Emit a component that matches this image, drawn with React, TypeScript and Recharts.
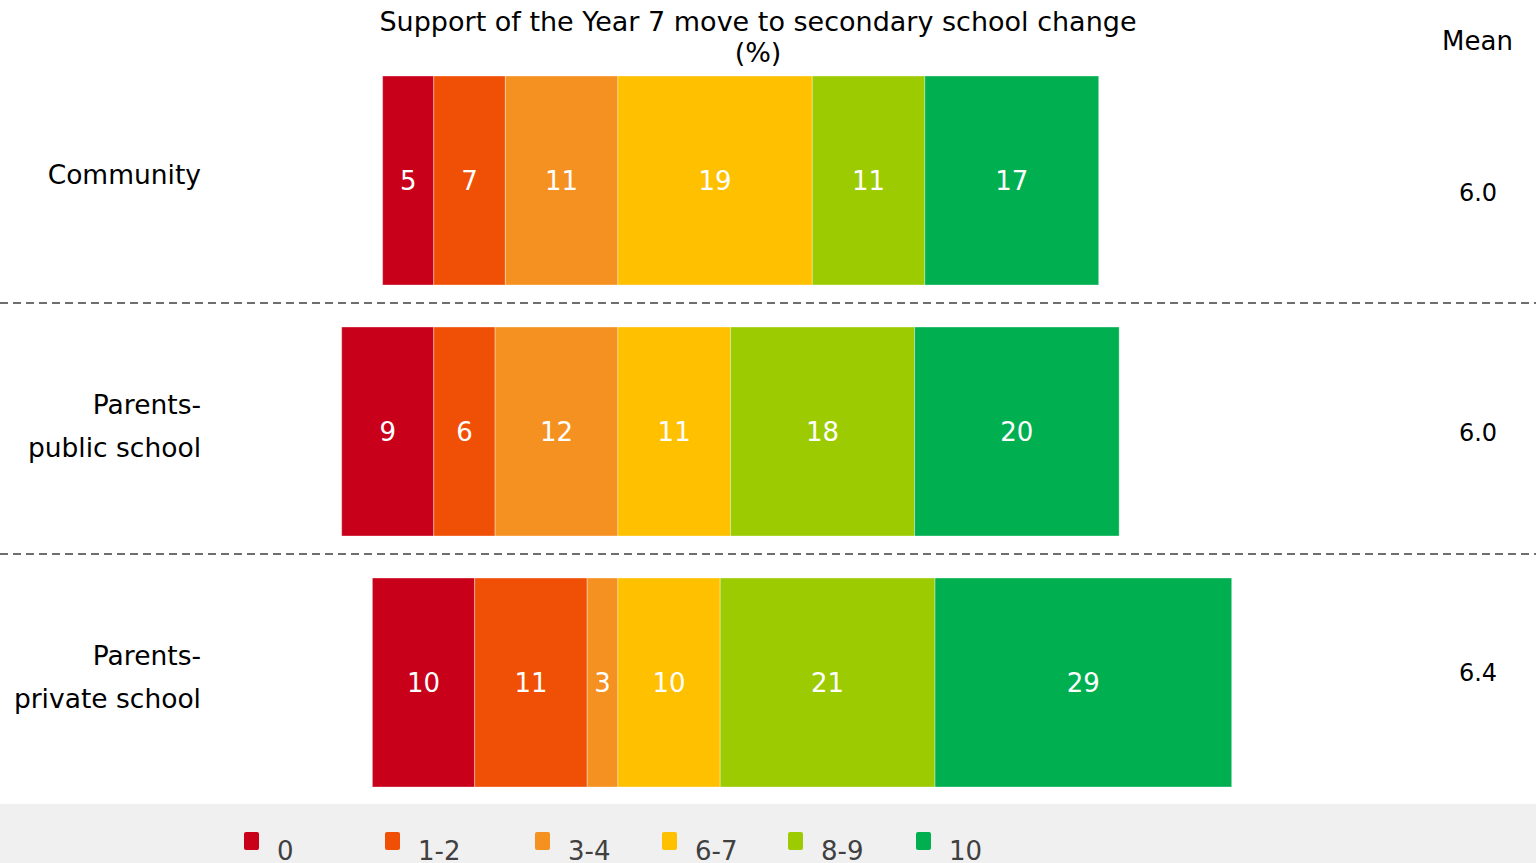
import { BarChart, Bar, XAxis, YAxis, CartesianGrid, Legend, LabelList } from "recharts";

const groups = ["Community", "Parents-\npublic school", "Parents-\nprivate school"];
const bands = ["0", "1-2", "3-4", "6-7", "8-9", "10"];
const score0 = [5, 9, 10];
const score12 = [7, 6, 11];
const score34 = [11, 12, 3];
const score67 = [19, 11, 10];
const score89 = [11, 18, 21];
const score10 = [17, 20, 29];
const means = ["6.0", "6.0", "6.4"];

const colors = ["#C8001A", "#F05005", "#F59120", "#FFC000", "#9BCB00", "#00B050"];
const keys = ["s0", "s12", "s34", "s67", "s89", "s10"];
// left edge of each legend entry
const legendX = [244, 385, 535, 662, 788, 916];

// bars are lined up on the gap left by the hidden "5" answer
const pivot = 30;

const data = groups.map((group, i) => ({
  group,
  spacer: pivot - (score0[i] + score12[i] + score34[i]),
  s0: score0[i],
  s12: score12[i],
  s34: score34[i],
  s67: score67[i],
  s89: score89[i],
  s10: score10[i],
  mean: means[i],
}));

const sans = "'DejaVu Sans', Verdana, sans-serif";

function GroupTick(props: any) {
  const { y, payload } = props;
  const lines = String(payload.value).split("\n");
  const start = y - 6 - ((lines.length - 1) * 43) / 2;
  return (
    <g>
      {lines.map((line, i) => (
        <text
          key={i}
          x={201}
          y={start + i * 43}
          textAnchor="end"
          dominantBaseline="central"
          fontFamily={sans}
          fontSize={26.5}
          fill="#000"
        >
          {line}
        </text>
      ))}
    </g>
  );
}

function MeanTick(props: any) {
  const { y, index } = props;
  return (
    <text x={1478} y={y + 1.5} textAnchor="middle" dominantBaseline="central" fontFamily={sans} fontSize={24} fill="#000">
      {means[index]}
    </text>
  );
}

function Separator(props: any) {
  return (
    <line
      key={`sep-${props.index}`}
      x1={0}
      x2={1536}
      y1={props.y1}
      y2={props.y2}
      stroke="#404040"
      strokeWidth={1.5}
      strokeDasharray="8 5"
    />
  );
}

function LegendStrip(props: any) {
  const items = (props.payload || [])
    .filter((p: any) => bands.includes(p.value))
    .sort((a: any, b: any) => bands.indexOf(a.value) - bands.indexOf(b.value));
  return (
    <div style={{ position: "relative", width: 1536, height: 70, background: "#F0F0F0" }}>
      {items.map((item: any, i: number) => (
        <div key={item.value} style={{ position: "absolute", left: legendX[i], top: 0 }}>
          <div style={{ position: "absolute", left: 0, top: 28, width: 15, height: 18, background: item.color, borderRadius: 2 }} />
          <div
            style={{
              position: "absolute",
              left: 33,
              top: 32,
              fontFamily: sans,
              fontSize: 26,
              lineHeight: "30px",
              color: "#404040",
              whiteSpace: "nowrap",
            }}
          >
            {item.value}
          </div>
        </div>
      ))}
    </div>
  );
}

export default function App() {
  return (
    <div style={{ position: "absolute", left: 0, top: 0, width: 1536, height: 863, overflow: "hidden", background: "#fff" }}>
      <div
        style={{
          position: "absolute",
          left: 0,
          top: 6,
          width: 1516,
          textAlign: "center",
          fontFamily: sans,
          fontSize: 27,
          lineHeight: "31px",
          color: "#000",
          zIndex: 2,
        }}
      >
        Support of the Year 7 move to secondary school change
        <br />
        (%)
      </div>
      <div
        style={{
          position: "absolute",
          left: 1400,
          top: 26,
          width: 155,
          textAlign: "center",
          fontFamily: sans,
          fontSize: 26,
          lineHeight: "30px",
          color: "#000",
          zIndex: 2,
        }}
      >
        Mean
      </div>
      <BarChart
        width={1536}
        height={863}
        data={data}
        layout="vertical"
        margin={{ top: 55, right: 0, bottom: 55, left: 0 }}
        barSize={209}
      >
        <CartesianGrid
          vertical={false}
          horizontal={Separator}
          horizontalCoordinatesGenerator={({ offset }: any) => [
            offset.top + offset.height / 3 - 3,
            offset.top + (2 * offset.height) / 3 - 3,
          ]}
        />
        <XAxis type="number" domain={[0, 100]} hide />
        <YAxis type="category" dataKey="group" width={311} axisLine={false} tickLine={false} tick={GroupTick} interval={0} />
        <YAxis
          yAxisId="mean"
          orientation="right"
          type="category"
          dataKey="group"
          width={202}
          padding={{ top: 16, bottom: 17 }}
          axisLine={false}
          tickLine={false}
          tick={MeanTick}
          interval={0}
        />
        <Legend
          layout="horizontal"
          verticalAlign="middle"
          align="center"
          wrapperStyle={{ top: 804, left: 0, width: 1536, height: 70 }}
          content={LegendStrip}
        />
        <Bar dataKey="spacer" stackId="a" fill="transparent" legendType="none" isAnimationActive={false} />
        {keys.map((k, i) => (
          <Bar
            key={k}
            dataKey={k}
            name={bands[i]}
            stackId="a"
            fill={colors[i]}
            stroke="#ffffff"
            strokeOpacity={0.35}
            strokeWidth={1}
            isAnimationActive={false}
          >
            <LabelList dataKey={k} position="center" fill="#fff" fontSize={26} fontFamily={sans} />
          </Bar>
        ))}
      </BarChart>
    </div>
  );
}
